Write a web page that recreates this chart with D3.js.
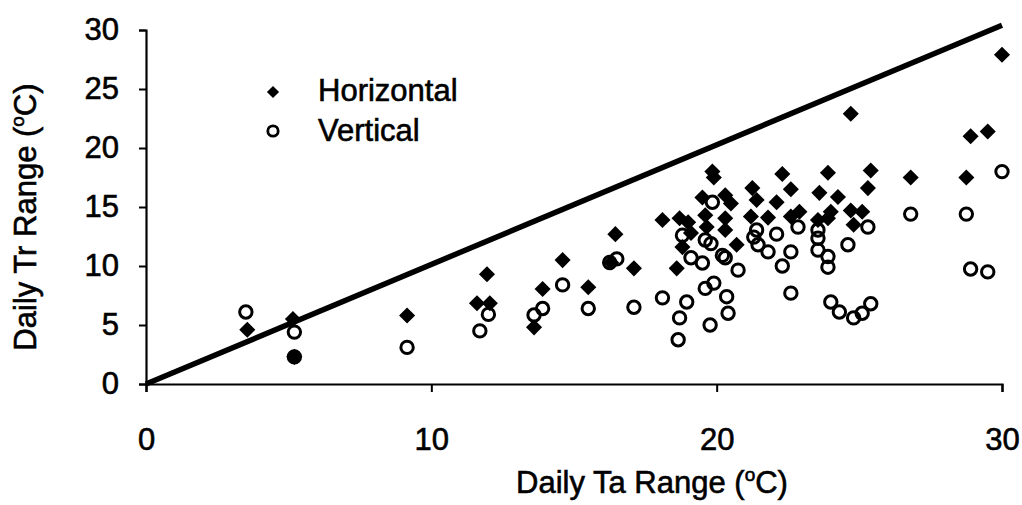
<!DOCTYPE html>
<html>
<head>
<meta charset="utf-8">
<script src="https://cdn.jsdelivr.net/npm/d3@7"></script>
<style>
  body { margin: 0; background: #fff; }
  svg text { font-family: "Liberation Sans", Arial, sans-serif; fill: #000; stroke: #000; stroke-width: 0.6px; }
</style>
</head>
<body>
<svg id="chart" width="1022" height="505"></svg>
<script>
// Horizontal sensor: [daily Ta range, daily Tr range]
const horizontal = [
  [3.55, 4.6], [5.15, 5.5], [5.2, 2.3], [9.15, 5.8], [11.6, 6.85], [12.05, 6.85],
  [11.95, 9.3], [13.6, 4.8], [13.9, 8.05], [14.6, 10.5], [15.5, 8.2], [16.3, 10.3],
  [16.45, 12.7], [17.1, 9.8], [18.1, 13.9], [18.7, 14.05], [19.0, 13.7], [19.1, 12.8],
  [18.8, 11.6], [18.6, 9.8], [19.5, 15.8], [19.6, 14.3], [19.65, 13.3], [19.85, 18.0],
  [19.9, 17.5], [20.3, 16.0], [20.5, 15.3], [20.3, 14.05], [20.3, 13.05], [20.7, 11.8],
  [21.25, 16.6], [21.4, 15.6], [21.2, 14.2], [21.8, 14.1], [22.1, 15.4], [22.3, 17.8],
  [22.6, 16.5], [22.6, 14.2], [22.9, 14.6], [23.6, 16.2], [23.55, 13.9], [23.9, 17.9],
  [23.9, 14.05], [24.0, 14.6], [24.25, 15.85], [24.7, 14.7], [24.8, 13.5], [25.1, 14.6],
  [25.3, 16.6], [25.4, 18.1], [24.7, 22.9], [26.8, 17.5], [28.75, 17.5], [28.9, 21.0],
  [29.5, 21.4], [30.0, 27.9]
];

// Vertical sensor
const vertical = [
  [3.5, 6.1], [5.2, 4.4], [5.2, 2.3], [9.15, 3.1], [12.0, 5.9], [11.7, 4.5],
  [13.9, 6.4], [13.6, 5.85], [14.6, 8.4], [15.5, 6.4], [16.25, 10.3], [16.5, 10.6],
  [17.1, 6.5], [18.1, 7.3], [18.7, 5.6], [18.65, 3.75], [18.95, 6.95], [18.8, 12.6],
  [19.6, 12.2], [19.8, 11.9], [19.1, 10.7], [19.5, 10.25], [19.6, 8.1], [19.9, 8.55],
  [19.77, 5.0], [19.85, 15.4], [20.2, 10.9], [20.3, 10.7], [20.35, 7.4], [20.4, 6.0],
  [20.75, 9.65], [21.4, 13.05], [21.3, 12.45], [21.45, 11.8], [21.8, 11.2], [22.1, 12.7],
  [22.3, 10.0], [22.6, 11.2], [22.6, 7.7], [22.85, 13.3], [23.55, 13.05], [23.55, 12.35],
  [23.55, 11.35], [23.9, 10.8], [23.9, 9.9], [24.6, 11.8], [25.3, 13.3], [24.0, 6.95],
  [24.3, 6.1], [24.8, 5.6], [25.1, 6.0], [25.4, 6.8], [26.8, 14.4], [28.75, 14.4],
  [28.9, 9.75], [29.5, 9.5], [30.0, 18.0]
];

// 1:1 reference line
const oneToOne = [[0, 0], [30, 30.4]];

const xTicks = [0, 10, 20, 30];
const yTicks = [0, 5, 10, 15, 20, 25, 30];

const svg = d3.select('#chart');
const fontSize = 31;

const x = d3.scaleLinear().domain([0, 30]).range([146, 1002]);
const y = d3.scaleLinear().domain([0, 30]).range([384, 30]);

// axes
const xAxis = svg.append('g')
  .attr('transform', `translate(0,${y(0)})`)
  .call(d3.axisBottom(x).tickValues(xTicks).tickSize(8).tickPadding(36).tickFormat(d3.format('d')));

const yAxis = svg.append('g')
  .attr('transform', `translate(${x(0)},0)`)
  .call(d3.axisLeft(y).tickValues(yTicks).tickSize(7).tickPadding(20).tickFormat(d3.format('d')));

[xAxis, yAxis].forEach(g => {
  g.select('.domain').attr('stroke', '#000').attr('stroke-width', 2.2);
  g.selectAll('.tick line').attr('stroke', '#000').attr('stroke-width', 2);
  g.selectAll('.tick text')
    .attr('font-size', fontSize)
    .attr('font-family', '"Liberation Sans", Arial, sans-serif')
    .attr('fill', '#000');
});
xAxis.selectAll('.tick text').attr('dy', '0.71em');

// 1:1 line
svg.append('path')
  .datum(oneToOne)
  .attr('d', d3.line().x(d => x(d[0])).y(d => y(d[1])))
  .attr('fill', 'none')
  .attr('stroke', '#000')
  .attr('stroke-width', 5.5);

const diamond = d3.symbol().type(d3.symbolDiamond2);

// vertical: open circles
svg.append('g').selectAll('circle')
  .data(vertical)
  .join('circle')
  .attr('cx', d => x(d[0]))
  .attr('cy', d => y(d[1]))
  .attr('r', 6.2)
  .attr('fill', 'none')
  .attr('stroke', '#000')
  .attr('stroke-width', 3);

// horizontal: filled diamonds
svg.append('g').selectAll('path')
  .data(horizontal)
  .join('path')
  .attr('transform', d => `translate(${x(d[0])},${y(d[1])})`)
  .attr('d', diamond.size(165))
  .attr('fill', '#000');

// legend
const legend = svg.append('g');
legend.append('path')
  .attr('transform', 'translate(273,92)')
  .attr('d', d3.symbol().type(d3.symbolDiamond2).size(95)())
  .attr('fill', '#000');
legend.append('circle')
  .attr('cx', 273).attr('cy', 131).attr('r', 5.2)
  .attr('fill', 'none').attr('stroke', '#000').attr('stroke-width', 2.8);
legend.append('text').attr('x', 318).attr('y', 101).attr('font-size', fontSize).text('Horizontal');
legend.append('text').attr('x', 318).attr('y', 141).attr('font-size', fontSize).text('Vertical');

// axis titles with superscript o
function degreeLabel(sel, before) {
  sel.append('tspan').text(before + ' (');
  sel.append('tspan').attr('font-size', 19).attr('dy', -12).text('o');
  sel.append('tspan').attr('dy', 12).text('C)');
}

svg.append('text')
  .attr('x', 652).attr('y', 493)
  .attr('text-anchor', 'middle')
  .attr('font-size', fontSize)
  .call(degreeLabel, 'Daily Ta Range');

svg.append('text')
  .attr('transform', 'translate(36,217) rotate(-90)')
  .attr('text-anchor', 'middle')
  .attr('font-size', fontSize)
  .call(degreeLabel, 'Daily Tr Range');
</script>
</body>
</html>
